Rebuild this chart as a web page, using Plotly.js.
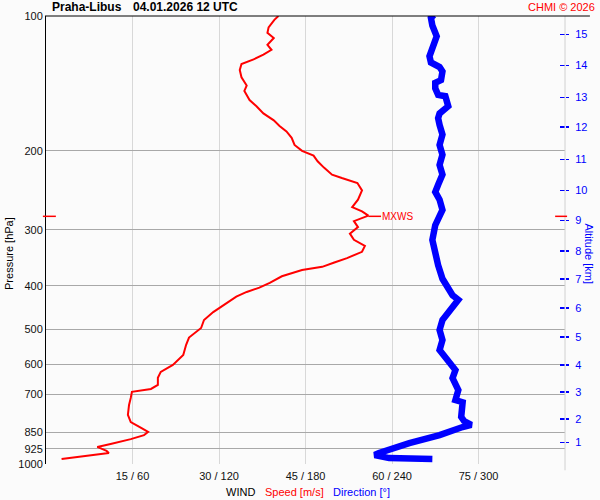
<!DOCTYPE html>
<html>
<head>
<meta charset="utf-8">
<script src="https://cdn.plot.ly/plotly-3.0.1.min.js"></script>
<style>html,body{margin:0;padding:0;background:#fbfbfb;}#chart{width:600px;height:500px;}</style>
</head>
<body>
<div id="chart"></div>
<script>
// ---- data ----
const pressureTicks = [100, 200, 300, 400, 500, 600, 700, 850, 925, 1000];
const speedTickVals = [15, 30, 45, 60, 75];
const speedTickText = ["15 / 60", "30 / 120", "45 / 180", "60 / 240", "75 / 300"];
const altKm = ["1","2","3","4","5","6","7","8","9","10","11","12","13","14","15"];
const altPressure = [895, 793, 691, 601, 520, 449, 386, 335, 286, 245, 209, 177, 152, 129, 110];

// wind speed profile [m/s] vs pressure [hPa]
const speedPressure = [975, 955, 945, 935, 916, 902, 880, 862, 848, 831, 806, 777, 738, 712, 690, 680, 666, 642, 623, 601, 571, 542, 522, 497, 477, 458, 437, 423, 413, 404, 394, 381, 369, 363, 355, 347, 336, 326, 316, 306, 296, 287, 279, 273, 267, 257, 245, 236, 230, 226, 218, 211, 205, 200, 194, 187, 181, 176, 171, 165, 159, 154, 147, 143, 137, 132, 128, 125, 122, 119, 116, 112, 109, 106, 102, 100];
const speedValues   = [2.7, 8.9, 10.9, 10.5, 8.9, 11.2, 14.7, 17.0, 17.7, 16.5, 14.7, 14.2, 14.4, 14.7, 14.9, 18.2, 19.4, 19.4, 19.9, 22.0, 23.8, 24.3, 24.8, 26.9, 27.4, 29.0, 31.3, 33.0, 34.8, 37.0, 38.8, 40.9, 44.4, 47.9, 50.0, 52.2, 54.8, 55.3, 53.4, 52.7, 54.1, 53.4, 55.9, 54.8, 53.1, 54.1, 54.8, 54.0, 51.3, 49.6, 48.2, 47.1, 46.4, 44.4, 43.1, 42.6, 41.7, 40.5, 39.5, 37.7, 36.5, 35.3, 34.4, 34.8, 33.9, 33.6, 33.9, 36.0, 37.7, 39.1, 38.4, 39.5, 38.4, 38.6, 39.6, 40.3];

// wind direction profile [deg] vs pressure [hPa]
const dirPressure = [975, 970, 955, 945, 898, 862, 827, 818, 802, 785, 728, 720, 684, 643, 617, 586, 557, 529, 502, 477, 453, 430, 420, 404, 386, 360, 342, 316, 293, 282, 271, 257, 247, 238, 226, 215, 204, 194, 184, 175, 169, 165, 159, 151, 150, 145, 141, 139, 133, 130, 127, 123, 117, 111, 105, 101, 99.5];
const dirValues   = [268, 238, 228, 231, 252, 273, 289, 295, 290, 288, 289, 284, 286, 282, 284, 279, 273, 275, 273, 275, 280, 286, 282, 279, 275, 272, 270, 268, 270, 272, 275, 273, 270, 272, 275, 273, 275, 273, 275, 273, 272, 273, 279, 277, 272, 270, 270, 274, 275, 273, 267, 266, 268, 271, 268, 267, 269];

const mxwsSpeed = 55.9;
const mxwsPressure = 280;

// ---- chart ----
const font = "Liberation Sans, Arial, Helvetica, sans-serif";
const blue = "#0000ff";
const red = "#ff0000";
const L10 = Math.log10;
const pMin = 100, pMax = 1000;
const mxwsPaperY = (L10(pMax) - L10(mxwsPressure)) / (L10(pMax) - L10(pMin));

const traces = [
  {x: speedValues, y: speedPressure, xaxis: "x", yaxis: "y", mode: "lines",
   line: {color: red, width: 2}, hoverinfo: "skip"},
  {x: dirValues, y: dirPressure, xaxis: "x2", yaxis: "y", mode: "lines",
   line: {color: blue, width: 6.5}, hoverinfo: "skip"},
  // helper traces (no visible marks) so the altitude axes get drawn
  {x: altPressure.map(() => null), y: altPressure, xaxis: "x", yaxis: "y2",
   mode: "markers", marker: {opacity: 0}, hoverinfo: "skip"},
  {x: altPressure.map(() => null), y: altPressure, xaxis: "x", yaxis: "y3",
   mode: "markers", marker: {opacity: 0}, hoverinfo: "skip"}
];

const yLog = {type: "log", range: [L10(pMax), L10(pMin)]};

const layout = {
  width: 600, height: 500,
  margin: {l: 46, r: 35, t: 16, b: 36, pad: 0},
  paper_bgcolor: "#fbfbfb", plot_bgcolor: "#fbfbfb",
  showlegend: false,
  font: {family: font, size: 11, color: "#111"},
  xaxis: {range: [0, 90], tickvals: speedTickVals, ticktext: speedTickText,
          showgrid: true, gridcolor: "#d8d8d8", gridwidth: 1, zeroline: false,
          showline: false, ticks: "", ticklabelstandoff: 4,
          tickfont: {size: 11, color: "#111"}},
  xaxis2: {range: [0, 360], overlaying: "x", anchor: "y", showgrid: false,
           zeroline: false, showticklabels: false, ticks: "", showline: false},
  yaxis: Object.assign({}, yLog, {tickvals: pressureTicks,
          ticktext: pressureTicks.map(String), showgrid: true, gridcolor: "#a8a8a8",
          gridwidth: 1, showline: true, linecolor: "#000", linewidth: 1,
          ticks: "", zeroline: false, tickfont: {size: 11, color: "#111"}}),
  yaxis2: Object.assign({}, yLog, {overlaying: "y", side: "right", anchor: "x",
           tickvals: altPressure, ticktext: altKm, ticks: "outside", ticklen: 3,
           tickwidth: 1.5, tickcolor: blue, showgrid: false, zeroline: false,
           showline: false, ticklabelstandoff: 4, tickfont: {size: 11, color: blue}}),
  yaxis3: Object.assign({}, yLog, {overlaying: "y", side: "right", anchor: "x",
           tickvals: altPressure, ticks: "inside", ticklen: 5, tickwidth: 1.5,
           tickcolor: blue, showticklabels: false, showgrid: false, zeroline: false,
           showline: false}),
  shapes: [
    {type: "line", xref: "paper", yref: "paper", x0: 1, x1: 1, y0: -0.014, y1: 1,
     line: {color: "#d0d0d0", width: 1}},
    {type: "line", xref: "paper", yref: "paper", x0: -0.002, x1: 1.048, y0: 1, y1: 1,
     line: {color: "#000", width: 1}},
    {type: "line", xref: "paper", yref: "paper", x0: -0.006, x1: 0.019,
     y0: mxwsPaperY, y1: mxwsPaperY, line: {color: red, width: 1.5}},
    {type: "line", xref: "paper", yref: "paper", x0: 0.981, x1: 1.004,
     y0: mxwsPaperY, y1: mxwsPaperY, line: {color: red, width: 1.5}},
    {type: "line", xref: "x", yref: "paper", x0: mxwsSpeed, x1: mxwsSpeed + 2.2,
     y0: mxwsPaperY, y1: mxwsPaperY, line: {color: red, width: 1.5}}
  ],
  annotations: [
    {text: "<b>Praha-Libus</b>", xref: "paper", yref: "paper", x: 0.0077, y: 1.02,
     xanchor: "left", yanchor: "middle", showarrow: false, font: {size: 12, color: "#000"}},
    {text: "<b>04.01.2026 12 UTC</b>", xref: "paper", yref: "paper", x: 0.1637, y: 1.02,
     xanchor: "left", yanchor: "middle", showarrow: false, font: {size: 12, color: "#000"}},
    {text: "CHMI © 2026", xref: "paper", yref: "paper", x: 1.0617, y: 1.02,
     xanchor: "right", yanchor: "middle", showarrow: false, font: {size: 11, color: red}},
    {text: "MXWS", xref: "x", yref: "paper", x: mxwsSpeed + 2.0, y: mxwsPaperY,
     xanchor: "left", yanchor: "middle", showarrow: false, font: {size: 10, color: red}},
    {text: "Pressure [hPa]", xref: "paper", yref: "paper", x: -0.0713, y: 0.471,
     xanchor: "center", yanchor: "middle", textangle: -90, showarrow: false,
     font: {size: 11, color: "#000"}},
    {text: "Altitude [km]", xref: "paper", yref: "paper", x: 1.046, y: 0.468,
     xanchor: "center", yanchor: "middle", textangle: 90, showarrow: false,
     font: {size: 11, color: blue}},
    {text: "WIND", xref: "paper", yref: "paper", x: 0.374, y: -0.063,
     xanchor: "center", yanchor: "middle", showarrow: false, font: {size: 11, color: "#000"}},
    {text: "Speed [m/s]", xref: "paper", yref: "paper", x: 0.478, y: -0.063,
     xanchor: "center", yanchor: "middle", showarrow: false, font: {size: 11, color: red}},
    {text: "Direction [°]", xref: "paper", yref: "paper", x: 0.607, y: -0.063,
     xanchor: "center", yanchor: "middle", showarrow: false, font: {size: 11, color: blue}}
  ]
};

Plotly.newPlot("chart", traces, layout, {displayModeBar: false, staticPlot: true});
</script>
</body>
</html>
